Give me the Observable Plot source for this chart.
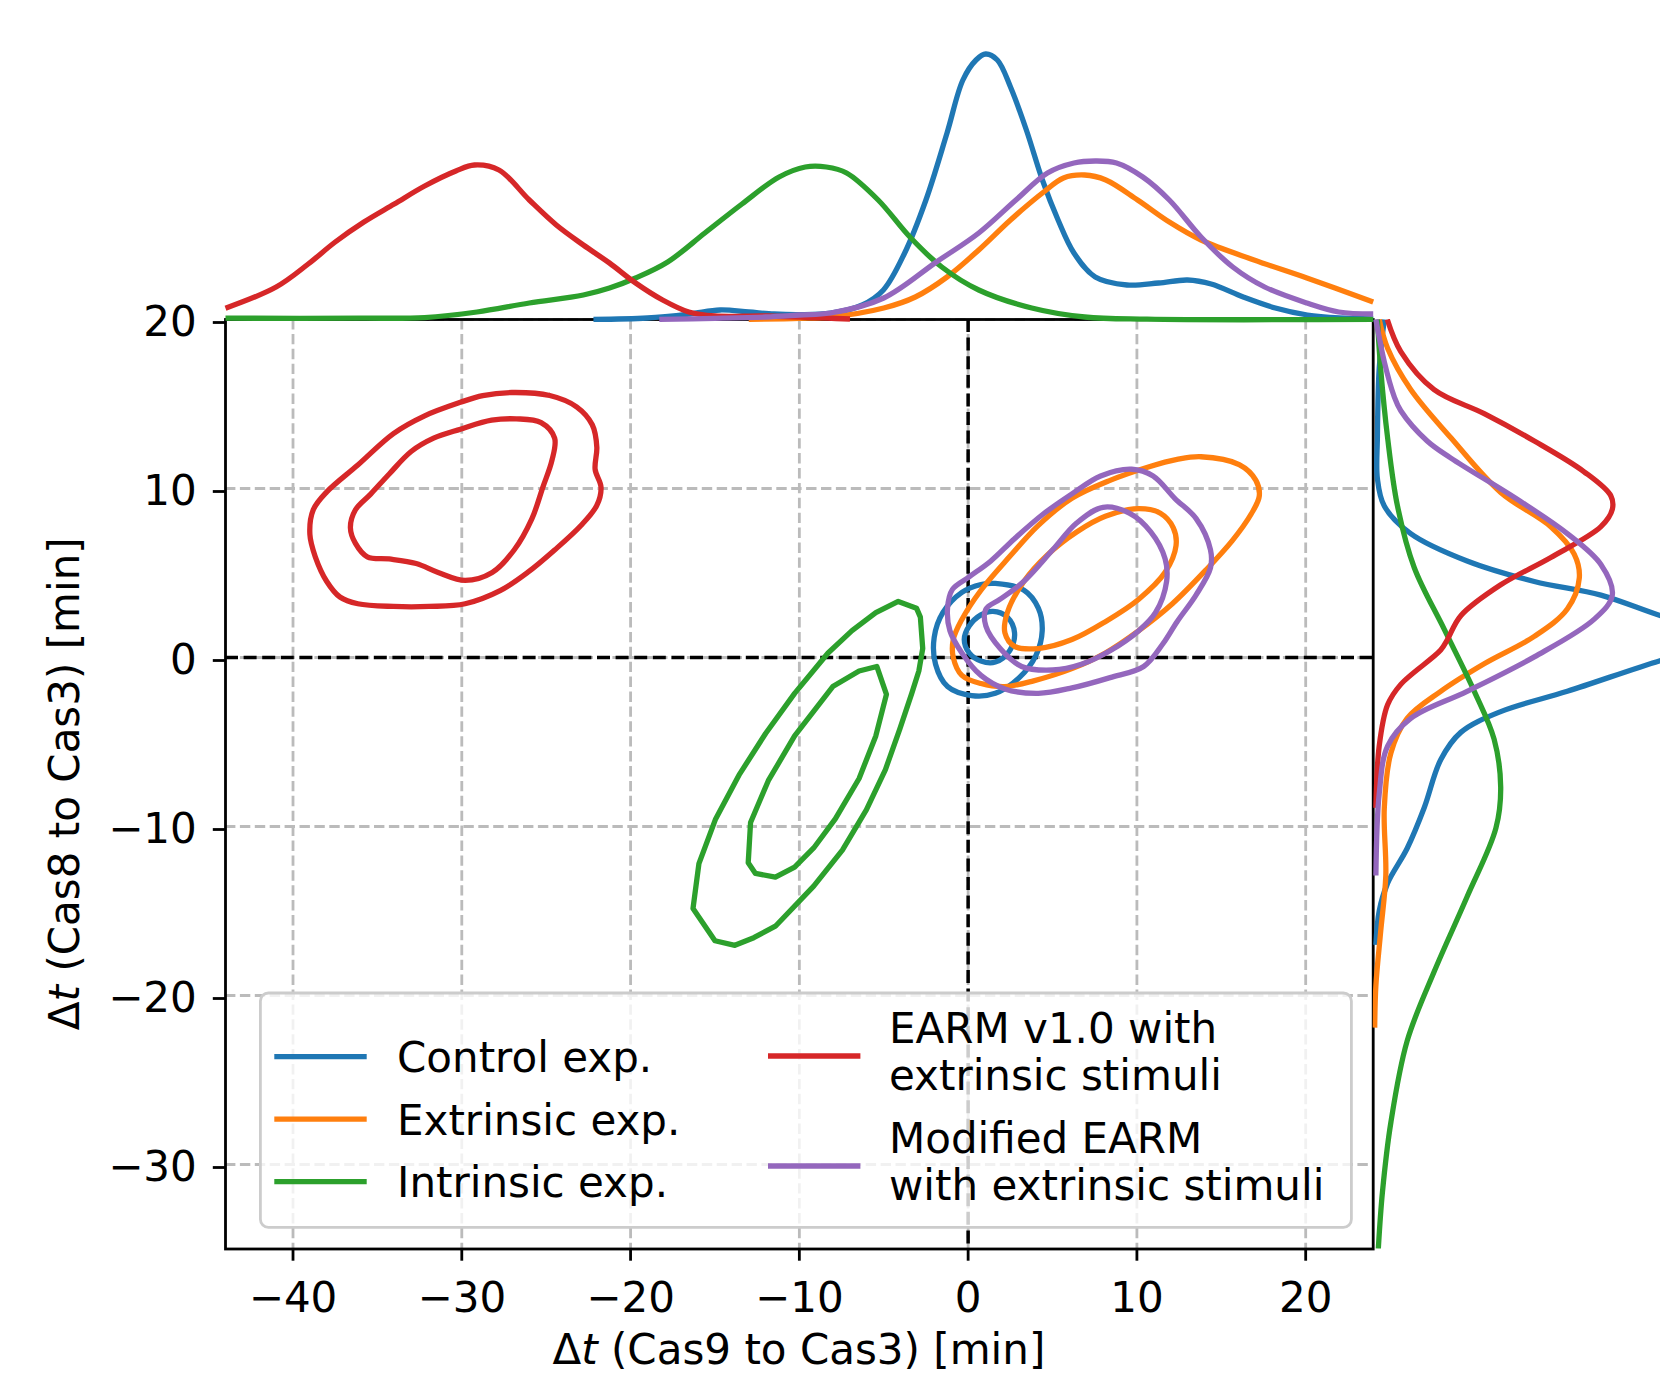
<!DOCTYPE html>
<html><head><meta charset="utf-8">
<script src="https://cdn.jsdelivr.net/npm/d3@7"></script>
<script src="https://cdn.jsdelivr.net/npm/@observablehq/plot@0.6"></script>
<style>
html,body{margin:0;padding:0;background:#fff;overflow:hidden}
#chart{position:relative;width:1660px;height:1376px;overflow:hidden;font-family:"DejaVu Sans"}
#chart svg{position:absolute;left:0;top:0;max-width:none}
</style></head><body><div id="chart"></div>
<script>
// ---------- series ----------
const seriesKeys = ["control", "extrinsic", "intrinsic", "earm", "modified"];
const seriesColors = ["#1f77b4", "#ff7f0e", "#2ca02c", "#d62728", "#9467bd"];
const legendLabels = [["Control exp."], ["Extrinsic exp."], ["Intrinsic exp."],
  ["EARM v1.0 with", "extrinsic stimuli"], ["Modified EARM", "with extrinsic stimuli"]];

// ---------- ticks ----------
const xTicks = [-40, -30, -20, -10, 0, 10, 20];
const yTicks = [-30, -20, -10, 0, 10, 20];
const xDomain = [-44, 24];
const yDomain = [-35, 20];

// ---------- contour lines (x = Δt Cas9→Cas3, y = Δt Cas8→Cas3) ----------
const controlOuter = [[1.61,4.38],[3.31,3.98],[4.16,2.92],[4.39,1.59],[4.02,0.13],[3.03,-1.19],[1.61,-2.12],[0.2,-2.25],[-1.22,-1.72],[-1.93,-0.4],[-2.01,1.19],[-1.5,2.65],[-0.37,3.85],[0.76,4.32]];
const controlInner = [[1.47,2.73],[2.32,2.39],[2.75,1.46],[2.46,0.4],[1.61,-0.27],[0.76,-0.21],[0.06,0.27],[-0.23,1.06],[0.06,1.86],[0.76,2.52]];
const extrinsicOuter = [[13.8,11.88],[16.06,11.41],[17.05,10.48],[17.25,9.55],[16.77,8.49],[15.64,6.9],[14.08,5.17],[12.1,3.18],[10.11,1.59],[8.13,0.27],[6.15,-0.66],[3.88,-1.38],[2.18,-1.72],[0.76,-1.54],[-0.37,-1.06],[-0.88,0.0],[-0.88,1.06],[-0.37,2.25],[0.76,3.98],[2.46,5.97],[4.16,7.82],[6.15,9.42],[8.41,10.48],[10.68,11.27],[12.38,11.72]];
const extrinsicInner = [[10.11,8.81],[11.39,8.54],[12.15,7.69],[12.32,6.63],[11.67,5.04],[10.11,3.45],[8.13,2.12],[6.15,1.06],[4.16,0.53],[2.75,0.66],[2.18,1.46],[2.32,2.65],[3.31,4.51],[4.73,6.1],[6.43,7.43],[8.13,8.36]];
const intrinsicOuter = [[-4.14,3.32],[-3.06,2.92],[-2.83,2.39],[-2.69,0.53],[-2.92,-0.8],[-3.34,-2.12],[-4.05,-4.24],[-4.9,-6.63],[-6.03,-9.02],[-7.45,-11.4],[-9.15,-13.53],[-11.42,-15.9],[-12.7,-16.58],[-13.82,-17.03],[-15.0,-16.76],[-16.3,-14.85],[-15.95,-12.2],[-14.96,-9.55],[-13.54,-6.9],[-12.0,-4.5],[-10.28,-2.12],[-8.3,0.27],[-6.88,1.59],[-5.47,2.65]];
const intrinsicInner = [[-5.41,-0.53],[-4.84,-2.18],[-5.47,-4.64],[-6.46,-7.16],[-7.87,-9.55],[-9.15,-11.27],[-10.28,-12.4],[-11.42,-12.99],[-12.6,-12.78],[-13.03,-12.15],[-12.89,-9.76],[-11.84,-7.29],[-10.28,-4.64],[-8.02,-1.72],[-6.46,-0.8]];
const earmOuter = [[-27.04,15.68],[-24.79,15.5],[-23.2,14.83],[-22.27,13.77],[-22.0,12.45],[-22.1,11.13],[-21.75,10.07],[-22.0,9.0],[-22.94,7.81],[-24.5,6.36],[-26.1,5.03],[-27.7,3.97],[-29.8,3.18],[-31.93,3.02],[-34.05,3.02],[-36.16,3.18],[-37.22,3.58],[-38.0,4.5],[-38.68,5.96],[-39.0,7.28],[-38.8,8.74],[-38.0,9.8],[-36.16,11.39],[-34.05,13.25],[-32.2,14.3],[-30.08,15.1],[-28.76,15.5]];
const earmInner = [[-26.77,14.12],[-25.3,13.9],[-24.5,12.98],[-24.66,11.66],[-25.2,10.07],[-25.85,8.2],[-26.9,6.36],[-28.2,5.03],[-29.8,4.56],[-31.4,5.03],[-32.7,5.56],[-34.3,5.83],[-35.6,5.96],[-36.3,6.75],[-36.6,7.68],[-36.3,8.74],[-35.4,9.67],[-34.3,10.86],[-33.0,12.19],[-31.67,12.98],[-30.08,13.51],[-28.23,14.04]];
const modifiedOuter = [[9.69,11.14],[10.96,10.74],[12.24,9.42],[13.51,8.22],[14.36,6.37],[14.36,5.31],[13.51,3.71],[12.38,2.12],[11.53,0.8],[10.4,-0.53],[8.41,-1.19],[6.15,-1.8],[4.16,-2.12],[2.18,-1.86],[0.76,-1.06],[-0.37,0.27],[-1.08,1.59],[-1.22,2.92],[-0.93,4.03],[0.06,4.77],[1.33,5.7],[2.75,7.03],[4.45,8.49],[6.15,9.68],[7.85,10.74]];
const modifiedInner = [[7.99,8.89],[9.55,8.54],[10.82,7.43],[11.67,5.84],[11.76,4.51],[11.1,2.65],[10.11,1.59],[8.41,0.4],[6.71,-0.4],[5.01,-0.74],[3.17,-0.53],[1.9,0.53],[1.05,1.86],[1.05,2.86],[1.9,3.45],[3.31,4.51],[5.01,6.37],[6.43,7.96]];

// ---------- top marginal densities: [x, density] ----------
const topControl = [[-22.2,0.0003],[-19,0.001],[-16.5,0.003],[-14.7,0.005],[-13,0.004],[-11.5,0.003],[-10,0.0027],[-8.15,0.0034],[-6.27,0.0075],[-5.02,0.015],[-3.76,0.0335],[-2.5,0.06],[-1.25,0.0935],[-0.31,0.12],[0.47,0.13],[1.04,0.133],[1.73,0.13],[2.51,0.1165],[3.45,0.095],[4.4,0.07],[5.33,0.05],[6.27,0.0335],[7.53,0.0215],[9.41,0.0175],[11.29,0.0185],[13.0,0.02],[14.4,0.018],[16.3,0.0115],[18.2,0.006],[20.1,0.0025],[22,0.001],[24,0.0005]];
const topExtrinsic = [[-13,0.0003],[-10,0.0008],[-8.15,0.0015],[-5.0,0.006],[-3.13,0.0115],[-1.25,0.0215],[0.63,0.035],[2.51,0.05],[4.4,0.0635],[5.65,0.071],[6.9,0.0725],[8.16,0.07],[10.04,0.06],[11.92,0.049],[13.8,0.04],[16.94,0.03],[20.07,0.021],[24.0,0.009]];
const topIntrinsic = [[-44,0.0009],[-36,0.0009],[-32.2,0.0012],[-29.1,0.004],[-26.0,0.0085],[-22.8,0.0125],[-21.25,0.016],[-19.7,0.021],[-17.8,0.029],[-15.6,0.0435],[-13.4,0.058],[-11.2,0.0715],[-9.65,0.0765],[-8.4,0.0765],[-7.2,0.0735],[-5.33,0.06],[-3.45,0.0415],[-1.56,0.0265],[0.63,0.015],[3.77,0.006],[6.9,0.0015],[10.6,0.0004],[24,0.0003]];
const topEarm = [[-44,0.0059],[-41.0,0.0165],[-39.1,0.028],[-37.5,0.039],[-35.8,0.049],[-34.0,0.058],[-32.2,0.067],[-30.35,0.0745],[-29.25,0.0775],[-27.8,0.075],[-26.0,0.06],[-24.4,0.0475],[-22.8,0.0375],[-21.25,0.0285],[-19.7,0.0185],[-18.1,0.01],[-16.55,0.004],[-15.0,0.002],[-11.9,0.002],[-7,0.0005]];
const topModified = [[-18.3,0.0003],[-15,0.0008],[-12,0.0015],[-10,0.0025],[-8.15,0.0035],[-5.0,0.011],[-1.88,0.029],[0.63,0.0435],[2.83,0.06],[4.7,0.0735],[6.27,0.0785],[7.53,0.0795],[8.79,0.0785],[10.35,0.0715],[11.92,0.06],[13.8,0.0415],[15.68,0.0265],[17.57,0.0165],[20.07,0.0085],[21.96,0.004],[24,0.003]];

// ---------- right marginal densities: [y, density] ----------
const rightControl = [[20,0.0037],[17.1,0.002],[13.0,0.0014],[10.58,0.0014],[8.96,0.0037],[7.33,0.0125],[5.71,0.0313],[4.5,0.0537],[3.69,0.0759],[2.47,0.0959],[1.9,0.108],[1.15,0.115],[0.4,0.108],[-0.17,0.0959],[-2.0,0.0647],[-3.2,0.0425],[-4.43,0.0292],[-6.05,0.0225],[-8.89,0.017],[-11.3,0.0113],[-13.35,0.0048],[-15,0.002],[-17.0,0.0009]];
const rightExtrinsic = [[20,0.002],[18.3,0.0048],[15.86,0.0125],[13.0,0.0259],[9.77,0.0425],[7.74,0.0592],[6.12,0.067],[4.7,0.0687],[2.87,0.0647],[1.25,0.0537],[-0.37,0.037],[-2.0,0.0225],[-3.6,0.0113],[-5.65,0.0059],[-8.9,0.0037],[-12.9,0.0042],[-16.2,0.0025],[-19.4,0.0009],[-21.9,0.0005]];
const rightIntrinsic = [[20,0.0014],[17.07,0.0025],[13.0,0.0048],[8.96,0.0081],[5.31,0.0137],[1.66,0.0237],[-2.0,0.0337],[-4.83,0.0403],[-7.67,0.0425],[-10.1,0.0409],[-14.16,0.0313],[-18.6,0.0203],[-22.7,0.0113],[-27.5,0.0059],[-31.6,0.0031],[-35,0.0017]];
const rightEarm = [[20,0.0047],[18.1,0.0092],[15.85,0.0203],[14.43,0.037],[12.81,0.0537],[10.99,0.0703],[9.57,0.0792],[8.76,0.0797],[7.74,0.0759],[5.92,0.0592],[4.3,0.0425],[2.47,0.0292],[1.05,0.0247],[0.44,0.0225],[-1.59,0.0092],[-2.8,0.0048],[-5.24,0.002],[-8.9,0.0009]];
const rightModified = [[20,0.0009],[17.5,0.0037],[15.44,0.007],[14.6,0.0092],[12.81,0.018],[11.8,0.0259],[9.36,0.048],[7.33,0.0647],[5.5,0.0759],[3.69,0.0797],[2.27,0.0737],[0.04,0.0537],[-2.0,0.0313],[-3.6,0.0125],[-5.24,0.0048],[-8.08,0.002],[-12.9,0.0009]];

// ---------- tables for the library ----------
const contourSets = {
  control: [controlOuter, controlInner], extrinsic: [extrinsicOuter, extrinsicInner],
  intrinsic: [intrinsicOuter, intrinsicInner], earm: [earmOuter, earmInner],
  modified: [modifiedOuter, modifiedInner]
};
const topSets = {control: topControl, extrinsic: topExtrinsic, intrinsic: topIntrinsic, earm: topEarm, modified: topModified};
const rightSets = {control: rightControl, extrinsic: rightExtrinsic, intrinsic: rightIntrinsic, earm: rightEarm, modified: rightModified};

const contourRows = seriesKeys.flatMap(s => contourSets[s].flatMap((pts, i) =>
  pts.map(([x, y]) => ({series: s, id: s + i, x, y}))));
const topRows = seriesKeys.flatMap(s => topSets[s].map(([x, d]) => ({series: s, x, d})));
const rightRows = seriesKeys.flatMap(s => rightSets[s].map(([y, d]) => ({series: s, y, d})));

// ---------- layout ----------
const W = 1660, H = 1376;
const mL = 225, mR = 287.3, mT = 319, mB = 127.5;
const LW = 5.3, AW = 2.8;
const font = "DejaVu Sans";
const colorScale = {domain: seriesKeys, range: seriesColors};
const chartDiv = document.getElementById("chart");

const mainPlot = Plot.plot({
  width: W, height: H, marginLeft: mL, marginRight: mR, marginTop: mT, marginBottom: mB,
  x: {domain: xDomain}, y: {domain: yDomain}, color: colorScale,
  style: {fontFamily: font, fontSize: "42px", background: "transparent", color: "black"},
  marks: [
    Plot.gridX(xTicks, {stroke: "#bbbbbb", strokeOpacity: 1, strokeWidth: AW, strokeDasharray: "10.4,4.5"}),
    Plot.gridY(yTicks, {stroke: "#bbbbbb", strokeOpacity: 1, strokeWidth: AW, strokeDasharray: "10.4,4.5"}),
    Plot.ruleX([0], {stroke: "black", strokeWidth: 3.5, strokeDasharray: "13,5.6"}),
    Plot.ruleY([0], {stroke: "black", strokeWidth: 3.5, strokeDasharray: "13,5.6"}),
    ...seriesKeys.map(s => Plot.line(contourRows.filter(d => d.series === s), {
      x: "x", y: "y", z: "id", stroke: "series", strokeWidth: LW,
      curve: s === "intrinsic" ? "linear-closed" : "catmull-rom-closed"
    })),
    Plot.frame({stroke: "black", strokeWidth: AW}),
    Plot.axisX(xTicks, {tickSize: 12.2, tickPadding: 21, strokeWidth: AW, fontSize: 42, label: null}),
    Plot.axisY(yTicks, {tickSize: 12.2, tickPadding: 16.5, strokeWidth: AW, fontSize: 42, dy: 3, label: null})
  ]
});
chartDiv.append(mainPlot);

const topPlot = Plot.plot({
  width: W, height: H, marginLeft: mL, marginRight: mR, marginTop: 19.5, marginBottom: H - 319.5,
  x: {domain: xDomain, axis: null}, y: {domain: [0, 0.15], axis: null}, color: colorScale,
  style: {background: "transparent"},
  marks: [
    ...seriesKeys.map(s => Plot.line(topRows.filter(d => d.series === s), {
      x: "x", y: "d", stroke: "series", strokeWidth: LW, curve: "catmull-rom", strokeLinecap: "butt"
    }))
  ]
});
chartDiv.append(topPlot);

const rightPlot = Plot.plot({
  width: W, height: H, marginLeft: W - mR, marginRight: 0, marginTop: mT, marginBottom: mB,
  x: {domain: [0, mR / 3000], axis: null}, y: {domain: yDomain, axis: null}, color: colorScale,
  style: {background: "transparent"},
  marks: [
    ...seriesKeys.map(s => Plot.line(rightRows.filter(d => d.series === s), {
      x: "d", y: "y", stroke: "series", strokeWidth: LW, curve: "catmull-rom", clip: true, strokeLinecap: "butt"
    }))
  ]
});
chartDiv.append(rightPlot);

// ---------- axis labels (Δ upright, t italic as in mathtext) ----------
const ms = d3.select(mainPlot);
function axisLabel(g, tx, label) {
  const t = g.append("text").attr("transform", tx).attr("text-anchor", "middle")
    .attr("font-family", font).attr("font-size", 42).attr("fill", "black");
  t.append("tspan").text("Δ");
  t.append("tspan").attr("font-style", "italic").text("t");
  t.append("tspan").text(label);
}
axisLabel(ms, `translate(${(mL + W - mR) / 2},1364)`, " (Cas9 to Cas3) [min]");
axisLabel(ms, `translate(79,${(mT + H - mB) / 2}) rotate(-90)`, " (Cas8 to Cas3) [min]");

// ---------- legend ----------
const leg = d3.create("svg").attr("width", W).attr("height", H)
  .attr("font-family", font).attr("font-size", 42);
leg.append("rect").attr("x", 260.4).attr("y", 993).attr("width", 1091).attr("height", 234.3)
  .attr("rx", 8).attr("fill", "white").attr("fill-opacity", 0.8)
  .attr("stroke", "#cccccc").attr("stroke-width", AW);
const legendItems = [
  {hx: 274.3, hy: 1056.7, tx: 397, base: [1071.7]},
  {hx: 274.3, hy: 1119.2, tx: 397, base: [1134.5]},
  {hx: 274.3, hy: 1181.7, tx: 397, base: [1197.2]},
  {hx: 768, hy: 1056, tx: 889, base: [1043.3, 1090]},
  {hx: 768, hy: 1166, tx: 889, base: [1153.3, 1200]}
];
legendItems.forEach((it, i) => {
  leg.append("line").attr("x1", it.hx).attr("x2", it.hx + 92.4).attr("y1", it.hy).attr("y2", it.hy)
    .attr("stroke", seriesColors[i]).attr("stroke-width", LW);
  legendLabels[i].forEach((line, j) => {
    leg.append("text").attr("x", it.tx).attr("y", it.base[j]).attr("fill", "black").text(line);
  });
});
chartDiv.append(leg.node());
</script></body></html>
